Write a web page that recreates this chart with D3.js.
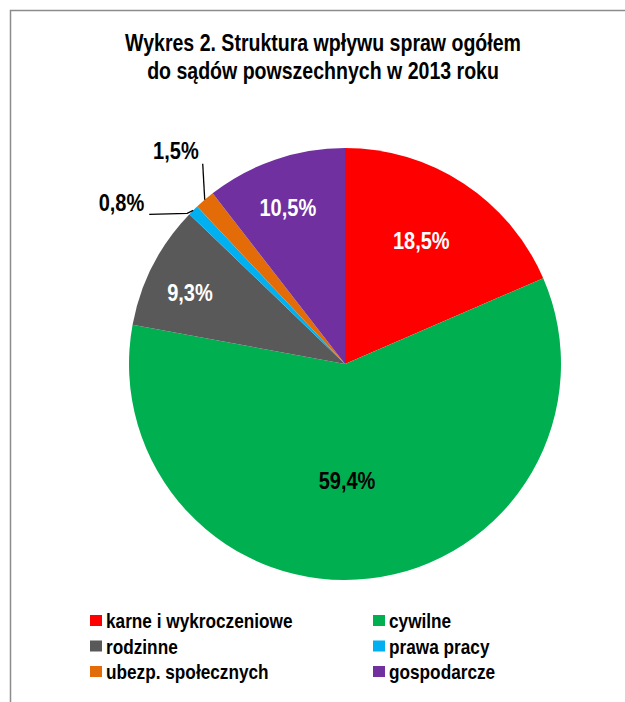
<!DOCTYPE html>
<html>
<head>
<meta charset="utf-8">
<script src="https://cdn.jsdelivr.net/npm/d3@7"></script>
<style>
  body { margin: 0; background: #fff; }
  svg text { font-family: "Liberation Sans Narrow", "Arial Narrow", "Liberation Sans", Arial, sans-serif; font-weight: bold; }
</style>
</head>
<body>
<div id="chart"></div>
<script>
// dane z wykresu
var categories = ["karne i wykroczeniowe", "cywilne", "rodzinne", "prawa pracy", "ubezp. społecznych", "gospodarcze"];
var values = [18.5, 59.4, 9.3, 0.8, 1.5, 10.5];
var colors = ["#FF0000", "#00B050", "#595959", "#00B0F0", "#E36C09", "#7030A0"];
var titleLines = ["Wykres 2. Struktura wpływu spraw ogółem", "do sądów powszechnych w 2013 roku"];

// brak czcionki "narrow" - zwężamy zwykłą przez skalowanie w poziomie
var narrow = 0.85;

function addText(parent, x, y, txt, size, anchor, fill, sx) {
    return parent.append("text")
        .attr("transform", `translate(${x}, ${y}) scale(${sx || narrow}, 1)`)
        .attr("text-anchor", anchor)
        .attr("font-size", size)
        .attr("fill", fill)
        .text(txt);
}

function makeChart() {
    var svgWidth = 625;
    var svgHeight = 702;

    var svg = d3.select("#chart")
        .append("svg")
        .attr("width", svgWidth)
        .attr("height", svgHeight);

    // ramka (tylko góra i lewa strona widoczne)
    svg.append("path")
        .attr("d", "M10.5,702 L10.5,10.5 L625,10.5")
        .attr("fill", "none")
        .attr("stroke", "#8c8c8c")
        .attr("stroke-width", 1.5);

    // tytuł
    titleLines.forEach(function (t, i) {
        addText(svg, 323, 51 + i * 28, t, "23px", "middle", "#000");
    });

    var cx = 345, cy = 364, radius = 216;

    var pie = d3.pie().sort(null).value(d => d);
    var arcs = pie(values);

    var arc = d3.arc().innerRadius(0).outerRadius(radius);

    var pieGroup = svg.append("g")
        .attr("transform", `translate(${cx}, ${cy})`);

    pieGroup.selectAll("path.slice")
        .data(arcs)
        .enter()
        .append("path")
        .attr("class", "slice")
        .attr("d", arc)
        .attr("fill", (d, i) => colors[i]);

    var fmt = v => d3.format(".1f")(v).replace(".", ",") + "%";

    // etykiety wewnątrz wycinków: promień (ułamek) i przesunięcie kąta w stopniach
    var inside = {
        0: { r: 0.67, shift: -1.5, fill: "#fff" },
        1: { r: 0.54, shift: 5.5, fill: "#000" },
        2: { r: 0.79, shift: -2.5, fill: "#fff" },
        5: { r: 0.77, shift: -1.2, fill: "#fff" }
    };

    Object.keys(inside).forEach(function (k) {
        var d = arcs[k];
        var opt = inside[k];
        var a = (d.startAngle + d.endAngle) / 2 + opt.shift * Math.PI / 180;
        var rr = radius * opt.r;
        addText(pieGroup, rr * Math.sin(a), -rr * Math.cos(a) + 8, fmt(values[k]), "23px", "middle", opt.fill, 0.87);
    });

    // etykiety zewnętrzne z liniami odniesienia
    function edgePoint(d) {
        var a = (d.startAngle + d.endAngle) / 2;
        return [radius * Math.sin(a), -radius * Math.cos(a)];
    }

    // 1,5% - linia w górę
    var p4 = edgePoint(arcs[4]);
    pieGroup.append("polyline")
        .attr("points", [p4, [p4[0] - 2, p4[1] - 36]].map(p => p.join(",")).join(" "))
        .attr("fill", "none")
        .attr("stroke", "#000")
        .attr("stroke-width", 1.3);
    addText(pieGroup, p4[0] - 6, p4[1] - 41, fmt(values[4]), "23px", "end", "#000", 0.87);

    // 0,8% - linia w lewo
    var p3 = edgePoint(arcs[3]);
    pieGroup.append("polyline")
        .attr("points", [p3, [p3[0] - 6, p3[1] + 3], [p3[0] - 44, p3[1] + 4]].map(p => p.join(",")).join(" "))
        .attr("fill", "none")
        .attr("stroke", "#000")
        .attr("stroke-width", 1.3);
    addText(pieGroup, p3[0] - 49, p3[1] + 1, fmt(values[3]), "23px", "end", "#000", 0.87);

    // legenda: 2 kolumny, 3 wiersze
    var legendX = [90, 373];
    var legendY0 = 615, legendStep = 25.5;

    var legend = svg.selectAll("g.legend")
        .data(categories)
        .enter()
        .append("g")
        .attr("class", "legend")
        .attr("transform", (d, i) => `translate(${legendX[i % 2]}, ${legendY0 + Math.floor(i / 2) * legendStep})`);

    legend.append("rect")
        .attr("x", 0)
        .attr("y", 0)
        .attr("width", 12)
        .attr("height", 11)
        .attr("fill", (d, i) => colors[i]);

    legend.each(function (d) {
        addText(d3.select(this), 16, 13, d, "20.5px", "start", "#000", 0.84);
    });
}

makeChart();
</script>
</body>
</html>
